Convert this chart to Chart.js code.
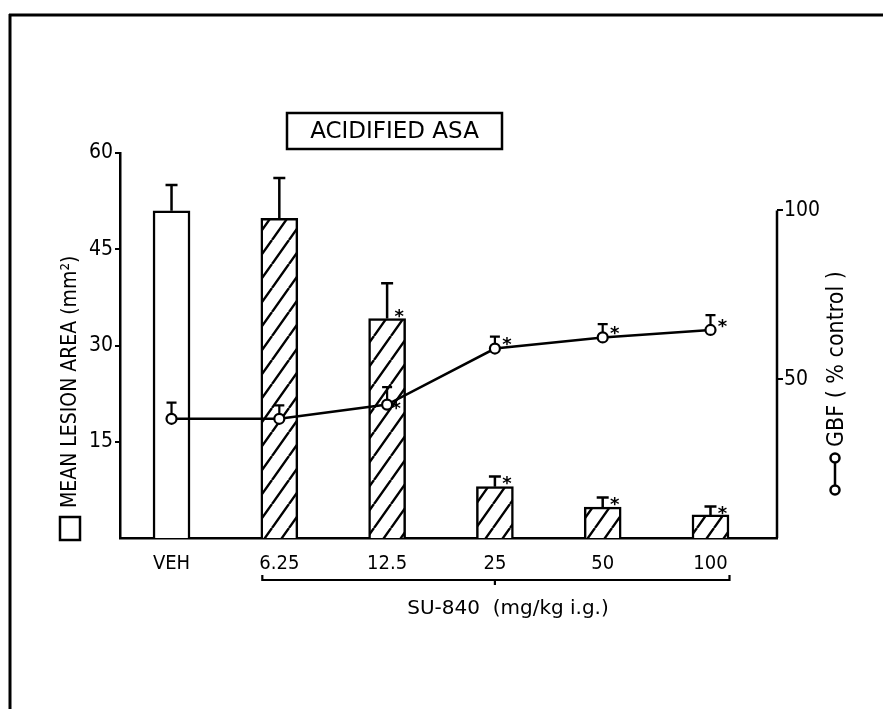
<!DOCTYPE html>
<html>
<head>
<meta charset="utf-8">
<script src="https://cdn.jsdelivr.net/npm/chart.js@4.4.1/dist/chart.umd.min.js"></script>
<style>
html,body{margin:0;padding:0;background:#fff;}
#wrap{width:883px;height:709px;position:relative;}
</style>
</head>
<body>
<div id="wrap"><canvas id="c" width="883" height="709"></canvas></div>
<script>
// ---- data ----
const categories = ["VEH", "6.25", "12.5", "25", "50", "100"];
const lesionArea = [51.0, 49.8, 34.2, 8.0, 4.8, 3.6];      // mm^2 (left axis)
const lesionErr  = [4.0, 6.3, 5.5, 1.6, 1.5, 1.3];
const lesionSig  = [false, false, true, true, true, true];
const gbf        = [38.3, 38.3, 42.5, 59.1, 62.4, 64.6];   // % control (right axis)
const gbfErr     = [4.8, 4.0, 5.2, 3.5, 3.9, 4.4];
const gbfSig     = [false, false, true, true, true, true];
const leftTicks  = [15, 30, 45, 60];
const rightTicks = [50, 100];

const FONT = '"DejaVu Sans Condensed", "DejaVu Sans", sans-serif';
const FONTW = '"DejaVu Sans", sans-serif';

function hatchPattern(){
  const w = 17, h = 24;
  const c = document.createElement('canvas');
  c.width = w; c.height = h;
  const g = c.getContext('2d');
  g.fillStyle = '#fff'; g.fillRect(0,0,w,h);
  g.strokeStyle = '#000'; g.lineWidth = 2.4;
  g.beginPath();
  g.moveTo(0,h); g.lineTo(w,0);
  g.moveTo(-w,h); g.lineTo(0,0);
  g.moveTo(w,h); g.lineTo(2*w,0);
  g.stroke();
  return g.createPattern(c, 'repeat');
}
const hatch = hatchPattern();

const barData  = categories.map((c,i)=>({x:i, y:lesionArea[i]}));
const lineData = categories.map((c,i)=>({x:i, y:gbf[i]}));

function star(ctx, x, y){
  ctx.font = 'bold 18px ' + FONTW; ctx.textAlign='center'; ctx.textBaseline='middle';
  ctx.fillText('*', x, y + 4);
}

const decor = {
  id: 'decor',
  afterDatasetsDraw(chart){
    const ctx = chart.ctx;
    const xs = chart.scales.x, ys = chart.scales.y, y2 = chart.scales.y2;
    ctx.save();
    ctx.strokeStyle = '#000'; ctx.fillStyle = '#000'; ctx.lineWidth = 2.5;
    lesionArea.forEach((v,i)=>{
      const x = xs.getPixelForValue(i);
      const yb = ys.getPixelForValue(v), yt = ys.getPixelForValue(v + lesionErr[i]);
      ctx.lineWidth = 2.5;
      ctx.beginPath(); ctx.moveTo(x, yb); ctx.lineTo(x, yt);
      ctx.moveTo(x-6, yt); ctx.lineTo(x+6, yt); ctx.stroke();
      if (lesionSig[i]) star(ctx, x + 12, i === 2 ? yb - 5 : yt + 4);
    });
    gbf.forEach((v,i)=>{
      const x = xs.getPixelForValue(i);
      const yp = y2.getPixelForValue(v), yt = y2.getPixelForValue(v + gbfErr[i]);
      ctx.lineWidth = 2.2;
      ctx.beginPath(); ctx.moveTo(x, yp - 5); ctx.lineTo(x, yt);
      ctx.moveTo(x-5, yt); ctx.lineTo(x+5, yt); ctx.stroke();
      if (gbfSig[i]) {
        if (i === 2) star(ctx, x + 9, yp + 1);
        else star(ctx, x + 12, yp - 7);
      }
    });
    ctx.restore();
  },
  afterDraw(chart){
    const ctx = chart.ctx;
    const xs = chart.scales.x, y2 = chart.scales.y2;
    const area = chart.chartArea;
    ctx.save();
    ctx.strokeStyle = '#000'; ctx.fillStyle = '#000';
    ctx.lineWidth = 3;
    ctx.beginPath(); ctx.moveTo(9, 15); ctx.lineTo(883, 15);
    ctx.moveTo(10, 14); ctx.lineTo(10, 709); ctx.stroke();
    ctx.lineWidth = 2.5;
    const rx = area.right;
    ctx.beginPath(); ctx.moveTo(rx, y2.getPixelForValue(100)); ctx.lineTo(rx, area.bottom); ctx.stroke();
    ctx.lineWidth = 2.5;
    ctx.strokeRect(287, 113, 215, 36);
    ctx.font = '23px ' + FONTW; ctx.textAlign = 'center'; ctx.textBaseline = 'middle';
    ctx.fillText('ACIDIFIED ASA', 394.5, 132);
    const bx1 = xs.getPixelForValue(1) - 17, bx2 = xs.getPixelForValue(5) + 19, bm = xs.getPixelForValue(3);
    const by = 580;
    ctx.lineWidth = 2.2;
    ctx.beginPath();
    ctx.moveTo(bx1, by - 5); ctx.lineTo(bx1, by); ctx.lineTo(bx2, by); ctx.lineTo(bx2, by - 5);
    ctx.moveTo(bm, by); ctx.lineTo(bm, by + 5);
    ctx.stroke();
    ctx.font = '20px ' + FONTW;
    ctx.fillText('SU-840  (mg/kg i.g.)', 508, 609);
    ctx.save();
    ctx.translate(70, 0);
    ctx.rotate(-Math.PI / 2);
    ctx.lineWidth = 2.5;
    ctx.strokeRect(-540, -10, 23, 20);
    ctx.font = '21px ' + FONT; ctx.textAlign = 'left'; ctx.textBaseline = 'middle';
    ctx.fillText('MEAN LESION AREA (mm²)', -508, 1);
    ctx.restore();
    ctx.save();
    ctx.lineWidth = 2.5;
    ctx.beginPath(); ctx.moveTo(835, 462); ctx.lineTo(835, 486); ctx.stroke();
    ctx.fillStyle = '#fff';
    [458, 490].forEach(cy=>{ ctx.beginPath(); ctx.arc(835, cy, 4.5, 0, Math.PI*2); ctx.fill(); ctx.stroke(); });
    ctx.fillStyle = '#000';
    ctx.translate(837, 0);
    ctx.rotate(-Math.PI / 2);
    ctx.font = '23px ' + FONT; ctx.textAlign = 'left'; ctx.textBaseline = 'middle';
    ctx.fillText('GBF ( % control )', -447, 0);
    ctx.restore();
    ctx.restore();
  }
};

new Chart(document.getElementById('c'), {
  data: {
    datasets: [
      {
        type: 'line', label: 'GBF', data: lineData, yAxisID: 'y2', xAxisID: 'x', order: 0,
        borderColor: '#000', borderWidth: 2.5, pointRadius: 5, pointBorderWidth: 2.2,
        pointBackgroundColor: '#fff', pointBorderColor: '#000', tension: 0
      },
      {
        type: 'bar', label: 'Lesion area', data: barData, yAxisID: 'y', xAxisID: 'x', order: 1,
        backgroundColor: categories.map((c,i)=> i === 0 ? '#fff' : hatch),
        borderColor: '#000', borderWidth: 2.5, barThickness: 37
      }
    ]
  },
  options: {
    responsive: false, animation: false,
    layout: { padding: { top: 153, left: 0, right: 0, bottom: 0 } },
    plugins: { legend: { display: false }, tooltip: { enabled: false } },
    scales: {
      x: {
        type: 'linear', min: -0.478, max: 5.617, offset: false,
        afterBuildTicks: s => { s.ticks = categories.map((c,i)=>({value:i})); },
        afterFit: s => { s.height = 171; },
        ticks: { callback: v => categories[v], color: '#000', font: { family: FONT, size: 20 }, padding: 6, maxRotation: 0 },
        grid: { display: false },
        border: { display: true, color: '#000', width: 2.5 }
      },
      y: {
        position: 'left', min: 0, max: 60,
        afterBuildTicks: s => { s.ticks = leftTicks.map(v=>({value:v})); },
        afterFit: s => { s.width = 120; },
        ticks: { color: '#000', font: { family: FONT, size: 21 }, padding: 2 },
        grid: { display: true, drawOnChartArea: false, color: '#000', lineWidth: 2, tickLength: 5 },
        border: { display: true, color: '#000', width: 2.5 }
      },
      y2: {
        position: 'right', min: 3, max: 117,
        afterBuildTicks: s => { s.ticks = rightTicks.map(v=>({value:v})); },
        afterFit: s => { s.width = 106; },
        ticks: { color: '#000', font: { family: FONT, size: 21 }, padding: 1 },
        grid: { display: true, drawOnChartArea: false, color: '#000', lineWidth: 2, tickLength: 6 },
        border: { display: false }
      }
    }
  },
  plugins: [decor]
});
</script>
</body>
</html>
